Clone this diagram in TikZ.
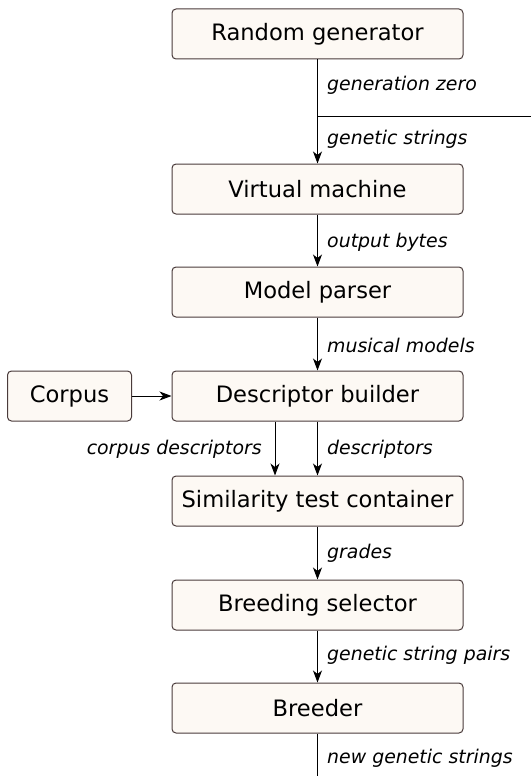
\documentclass[tikz,border=0pt]{standalone}
\usepackage{fontspec}
\setmainfont{DejaVu Sans}
\usetikzlibrary{arrows.meta}
\definecolor{boxfill}{HTML}{FDF9F4}
\definecolor{boxline}{HTML}{4A3B3B}
\tikzset{
  stage/.style={draw=boxline, fill=boxfill, line width=1pt, rounded corners=4pt,
    minimum width=291pt, minimum height=50pt, inner sep=0pt,
    font=\fontsize{22.6pt}{26pt}\selectfont},
  flow/.style={draw=black, line width=1pt, -{Stealth[length=12pt,width=9pt,inset=3.5pt]}},
  wire/.style={draw=black, line width=1pt},
  lbl/.style={font=\fontsize{18.9pt}{22pt}\selectfont\itshape, inner sep=0pt}
}
\begin{document}
\begin{tikzpicture}[x=1pt,y=-1pt]
\useasboundingbox (0,0) rectangle (531,776);
% processing stages
\node[stage] (rg)  at (317.5,34)  {Random generator};
\node[stage] (vm)  at (317.5,189) {Virtual machine};
\node[stage] (mp)  at (317.5,292) {Model parser};
\node[stage] (db)  at (317.5,396) {Descriptor builder};
\node[stage, minimum width=124pt] (cp) at (69.5,396) {Corpus};
\node[stage] (st)  at (317.5,501) {Similarity test container};
\node[stage] (bs)  at (317.5,605) {Breeding selector};
\node[stage] (br)  at (317.5,708) {Breeder};
% loop junction and open ends
\coordinate (j)  at (317.5,116);
\coordinate (je) at (531,116);
\coordinate (out) at (317.5,776);
% connectors
\draw[wire] (rg.south) -- (j);
\draw[wire] (j) -- (je);
\draw[flow] (j) -- (vm.north);
\draw[flow] (vm) -- (mp);
\draw[flow] (mp) -- (db);
\draw[flow] (cp) -- (db);
\draw[flow] (db.south -| 275,0) -- (st.north -| 275,0);
\draw[flow] (db) -- (st);
\draw[flow] (st) -- (bs);
\draw[flow] (bs) -- (br);
\draw[wire] (br.south) -- (out);
% flow labels
\node[lbl, anchor=west] (l1) at (327,85)  {generation zero};
\node[lbl, anchor=west] (l2) at (327,139) {genetic strings};
\node[lbl, anchor=west] (l3) at (327,242) {output bytes};
\node[lbl, anchor=west] (l4) at (327,345) {musical models};
\node[lbl, anchor=east] (l5) at (262,449) {corpus descriptors};
\node[lbl, anchor=west] (l6) at (327,449) {descriptors};
\node[lbl, anchor=west] (l7) at (327,553) {grades};
\node[lbl, anchor=west] (l8) at (327,655) {genetic string pairs};
\node[lbl, anchor=west] (l9) at (327,758) {new genetic strings};
\end{tikzpicture}
\end{document}
